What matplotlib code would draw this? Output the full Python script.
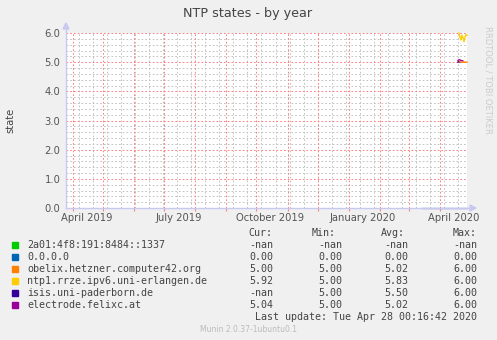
import datetime as dt
import matplotlib
matplotlib.use("Agg")
import matplotlib.pyplot as plt
from matplotlib.lines import Line2D
from matplotlib.patches import Rectangle, Polygon

plt.rcParams["lines.scale_dashes"] = False

# time window of the yearly graph (400 days, munin style)
t_end = dt.datetime(2020, 4, 28, 0, 16, 42)
t_start = t_end - dt.timedelta(days=400)

def days(y, m, d0, n):
    start = dt.datetime(y, m, d0)
    return [start + dt.timedelta(days=i) for i in range(n)]

# per-day consolidated values of each peer
zero_dates = days(2020, 3, 14, 46)
zero_vals = [0.0] * 46

obelix_dates = days(2020, 4, 21, 8)
obelix_vals = [5.02, 5.0, 5.0, 5.0, 5.0, 5.0, 5.0, 5.0]

ntp1_dates = days(2020, 4, 20, 9)
ntp1_vals = [6.0, 5.85, 5.76, 5.93, 5.85, 5.7, 5.85, 5.95, 5.92]

isis_dates = days(2020, 4, 19, 3)
isis_vals = [5.0, 5.02, 5.0]

electrode_dates = days(2020, 4, 19, 6)
electrode_vals = [5.06, 5.08, 5.08, 5.06, 5.05, 5.04]

names = ["2a01:4f8:191:8484::1337", "0.0.0.0", "obelix.hetzner.computer42.org",
         "ntp1.rrze.ipv6.uni-erlangen.de", "isis.uni-paderborn.de", "electrode.felixc.at"]
colors = ["#00CC00", "#0066B3", "#FF8000", "#FFCC00", "#330099", "#990099"]
cur = ["-nan", "0.00", "5.00", "5.92", "-nan", "5.04"]
mins = ["-nan", "0.00", "5.00", "5.00", "5.00", "5.00"]
avgs = ["-nan", "0.00", "5.02", "5.83", "5.50", "5.02"]
maxs = ["-nan", "0.00", "6.00", "6.00", "6.00", "6.00"]

month_labels = ["April 2019", "July 2019", "October 2019", "January 2020", "April 2020"]
label_dates = [dt.datetime(2019, 4, 15), dt.datetime(2019, 7, 15), dt.datetime(2019, 10, 15),
               dt.datetime(2020, 1, 15), dt.datetime(2020, 4, 15)]

W, H = 497, 340
fig = plt.figure(figsize=(W / 100, H / 100), dpi=100, facecolor="#F0F0F0")
ax = fig.add_axes([66 / W, 1 - 208 / H, 401 / W, 175 / H])
ax.set_facecolor("white")
ax.set_xlim(t_start, t_end)
ax.set_ylim(0, 6)

# grid: gray minor, red major, 1px dots
px = 0.72
dots = (0, (1.2, 1.5))
for v in [i * 0.2 for i in range(31)]:
    major = abs(v - round(v)) < 1e-6
    ax.axhline(v, color="#FF8080" if major else "#C4C4C4", lw=px, ls=dots,
               zorder=1 if major else 0)
d = dt.datetime(2019, 4, 7)
while d < t_end:
    ax.axvline(d, color="#C4C4C4", lw=px, ls=dots, zorder=0)
    d += dt.timedelta(days=14)
months = []
y, m = 2019, 4
while dt.datetime(y, m, 1) < t_end:
    months.append(dt.datetime(y, m, 1))
    m += 1
    if m > 12:
        y, m = y + 1, 1
for d in months:
    ax.axvline(d, color="#FF8080", lw=px, ls=dots, zorder=1)

series = [(isis_dates, isis_vals, colors[4]), (electrode_dates, electrode_vals, colors[5]),
          (obelix_dates, obelix_vals, colors[2]), (ntp1_dates, ntp1_vals, colors[3])]
for xs, ys, c in series:
    ax.plot(xs, ys, color=c, lw=1.0, zorder=3, clip_on=False)

for s in ax.spines.values():
    s.set_visible(False)
ax.set_xticks(months)
ax.set_xticklabels([])
ax.tick_params(axis="x", length=2, color="#FF8080", width=0.8)
ax.set_yticks(range(7))
ax.set_yticklabels([f"{v:.1f}" for v in range(7)], fontsize=7.2, color="#555555")
ax.tick_params(axis="y", length=0, pad=4)
for d, lab in zip(label_dates, month_labels):
    ax.text(d, -0.17, lab, ha="center", va="top", fontsize=7.2, color="#555555")

# axes with arrows
axc = "#C8C8F0"
fig.add_artist(Line2D([66 / W, 66 / W], [1 - 208 / H, 1 - 27 / H], color=axc, lw=1))
fig.add_artist(Line2D([66 / W, 472 / W], [1 - 208 / H, 1 - 208 / H], color=axc, lw=1))
fig.patches.append(Polygon([[63 / W, 1 - 29 / H], [69 / W, 1 - 29 / H], [66 / W, 1 - 23 / H]],
                           closed=True, color=axc, transform=fig.transFigure, figure=fig))
fig.patches.append(Polygon([[470 / W, 1 - 205 / H], [470 / W, 1 - 211 / H], [476 / W, 1 - 208 / H]],
                           closed=True, color=axc, transform=fig.transFigure, figure=fig))
# the 0.0.0.0 peer sits right on the x axis
ax.plot(zero_dates, zero_vals, color="#6E94D0", lw=1.0, zorder=4, clip_on=False)

fig.text(248 / W, 1 - 13 / H, "NTP states - by year", ha="center", va="center",
         fontsize=9.2, color="#444444")
fig.text(10 / W, 1 - 120 / H, "state", rotation=90, ha="center", va="center",
         fontsize=7.2, color="#444444")
fig.text(488 / W, 1 - 80 / H, "RRDTOOL / TOBI OETIKER", rotation=270, ha="center",
         va="center", fontsize=6, color="#CCCCCC")

# legend table
mono = "DejaVu Sans Mono"
tc = "#444444"
for x, head in zip([272, 336, 405, 477], ["Cur:", "Min:", "Avg:", "Max:"]):
    fig.text(x / W, 1 - 233 / H, head, ha="right", va="center", family=mono, fontsize=7.2, color=tc)
for i, name in enumerate(names):
    yy = 1 - (244.5 + i * 12) / H
    fig.patches.append(Rectangle((12 / W, yy - 3 / H), 6 / W, 6 / H, color=colors[i],
                                 transform=fig.transFigure, figure=fig))
    fig.text(27 / W, yy, name, ha="left", va="center", family=mono, fontsize=7.2, color=tc)
    for x, v in zip([273, 342, 408, 477], [cur[i], mins[i], avgs[i], maxs[i]]):
        fig.text(x / W, yy, v, ha="right", va="center", family=mono, fontsize=7.2, color=tc)
fig.text(477 / W, 1 - 316.5 / H, "Last update: Tue Apr 28 00:16:42 2020", ha="right",
         va="center", family=mono, fontsize=7.2, color=tc)
fig.text(248 / W, 1 - 329 / H, "Munin 2.0.37-1ubuntu0.1", ha="center", va="center",
         fontsize=5.5, color="#BBBBBB")

fig.savefig("out.png", dpi=100, facecolor=fig.get_facecolor())
